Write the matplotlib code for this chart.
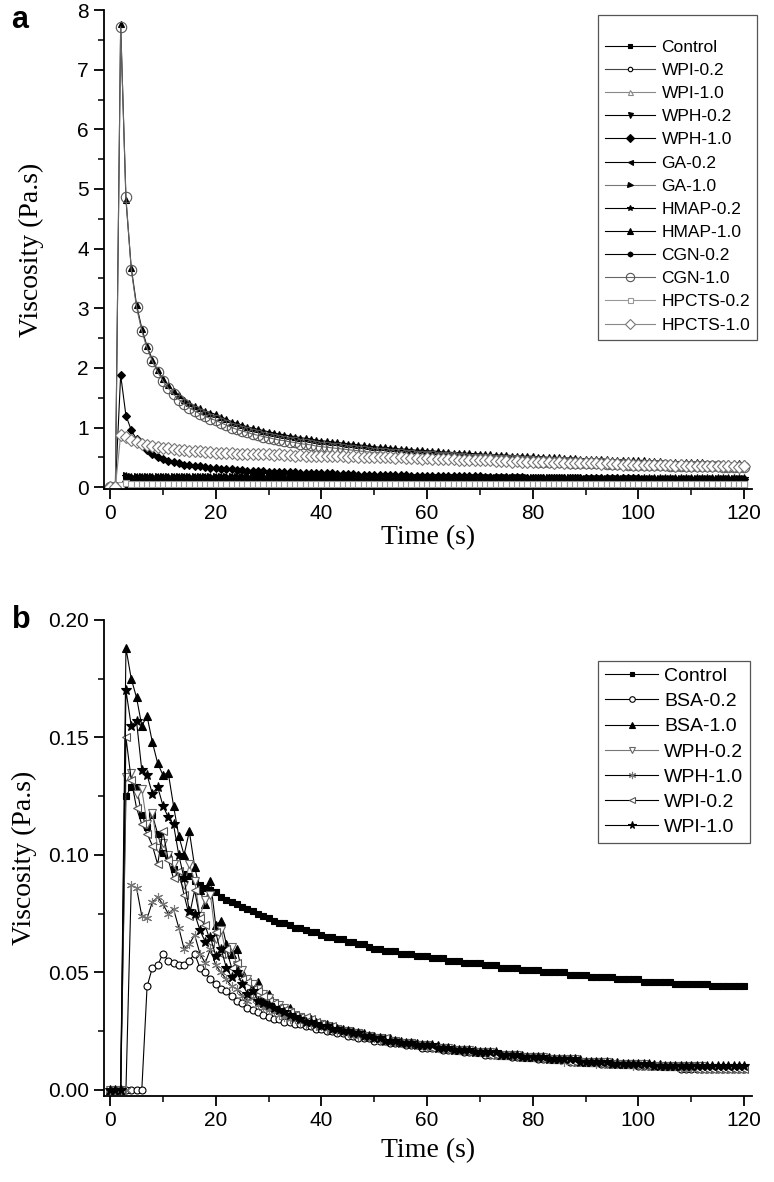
import numpy as np
import matplotlib
matplotlib.use("Agg")
import matplotlib.pyplot as plt
from matplotlib.ticker import MultipleLocator, FormatStrFormatter

plt.rcParams['font.family'] = ['Liberation Sans', 'DejaVu Sans']

time_s = np.arange(0, 121)

# ---------------- Panel a data (Pa.s), one value per second, t = 0..120 ----------------
a_control = [0.00, 0.00, 0.00, 0.02, 0.02, 0.02, 0.02, 0.01, 0.01, 0.01,
             0.01, 0.01, 0.01, 0.01, 0.01, 0.01, 0.01, 0.01, 0.01, 0.01,
             0.01, 0.01, 0.01, 0.01, 0.01, 0.01, 0.01, 0.01, 0.01, 0.01,
             0.01, 0.01, 0.01, 0.01, 0.01, 0.01, 0.01, 0.01, 0.01, 0.01,
             0.01, 0.01, 0.01, 0.01, 0.01, 0.01, 0.01, 0.01, 0.01, 0.01,
             0.01, 0.01, 0.01, 0.01, 0.01, 0.01, 0.01, 0.01, 0.01, 0.01,
             0.01, 0.01, 0.01, 0.01, 0.01, 0.01, 0.01, 0.01, 0.01, 0.01,
             0.01, 0.01, 0.01, 0.01, 0.01, 0.01, 0.01, 0.01, 0.01, 0.01,
             0.01, 0.01, 0.01, 0.01, 0.01, 0.01, 0.01, 0.01, 0.01, 0.01,
             0.01, 0.01, 0.01, 0.01, 0.01, 0.01, 0.01, 0.01, 0.01, 0.01,
             0.01, 0.01, 0.01, 0.01, 0.01, 0.01, 0.01, 0.01, 0.01, 0.01,
             0.01, 0.01, 0.01, 0.01, 0.01, 0.01, 0.01, 0.01, 0.01, 0.01,
             0.01]
a_wpi_02 = [0.00, 0.00, 0.00, 0.08, 0.07, 0.06, 0.06, 0.05, 0.05, 0.05,
            0.05, 0.04, 0.04, 0.04, 0.04, 0.04, 0.04, 0.04, 0.04, 0.04,
            0.03, 0.03, 0.03, 0.03, 0.03, 0.03, 0.03, 0.03, 0.03, 0.03,
            0.03, 0.03, 0.03, 0.03, 0.03, 0.03, 0.03, 0.03, 0.03, 0.03,
            0.02, 0.02, 0.02, 0.02, 0.02, 0.02, 0.02, 0.02, 0.02, 0.02,
            0.02, 0.02, 0.02, 0.02, 0.02, 0.02, 0.02, 0.02, 0.02, 0.02,
            0.02, 0.02, 0.02, 0.02, 0.02, 0.02, 0.02, 0.02, 0.02, 0.02,
            0.02, 0.02, 0.02, 0.02, 0.02, 0.02, 0.02, 0.02, 0.02, 0.02,
            0.01, 0.01, 0.01, 0.01, 0.01, 0.01, 0.01, 0.01, 0.01, 0.01,
            0.01, 0.01, 0.01, 0.01, 0.01, 0.01, 0.01, 0.01, 0.01, 0.01,
            0.01, 0.01, 0.01, 0.01, 0.01, 0.01, 0.01, 0.01, 0.01, 0.01,
            0.01, 0.01, 0.01, 0.01, 0.01, 0.01, 0.01, 0.01, 0.01, 0.01,
            0.01]
a_wpi_10 = [0.00, 0.00, 0.00, 0.10, 0.09, 0.08, 0.07, 0.07, 0.06, 0.06,
            0.05, 0.05, 0.05, 0.05, 0.05, 0.05, 0.05, 0.05, 0.05, 0.05,
            0.04, 0.04, 0.04, 0.04, 0.04, 0.04, 0.04, 0.04, 0.04, 0.04,
            0.04, 0.04, 0.04, 0.04, 0.04, 0.04, 0.04, 0.04, 0.04, 0.04,
            0.03, 0.03, 0.03, 0.03, 0.03, 0.03, 0.03, 0.03, 0.03, 0.03,
            0.03, 0.03, 0.03, 0.03, 0.03, 0.03, 0.03, 0.03, 0.03, 0.03,
            0.03, 0.03, 0.03, 0.03, 0.03, 0.03, 0.03, 0.03, 0.03, 0.03,
            0.03, 0.03, 0.03, 0.03, 0.03, 0.03, 0.03, 0.03, 0.03, 0.03,
            0.02, 0.02, 0.02, 0.02, 0.02, 0.02, 0.02, 0.02, 0.02, 0.02,
            0.02, 0.02, 0.02, 0.02, 0.02, 0.02, 0.02, 0.02, 0.02, 0.02,
            0.02, 0.02, 0.02, 0.02, 0.02, 0.02, 0.02, 0.02, 0.02, 0.02,
            0.02, 0.02, 0.02, 0.02, 0.02, 0.02, 0.02, 0.02, 0.02, 0.02,
            0.02]
a_wph_02 = [0.00, 0.00, 0.00, 0.12, 0.11, 0.10, 0.09, 0.09, 0.08, 0.08,
            0.07, 0.07, 0.07, 0.07, 0.07, 0.06, 0.06, 0.06, 0.06, 0.06,
            0.05, 0.05, 0.05, 0.05, 0.05, 0.05, 0.05, 0.05, 0.05, 0.05,
            0.05, 0.05, 0.05, 0.05, 0.05, 0.05, 0.05, 0.05, 0.05, 0.05,
            0.04, 0.04, 0.04, 0.04, 0.04, 0.04, 0.04, 0.04, 0.04, 0.04,
            0.04, 0.04, 0.04, 0.04, 0.04, 0.04, 0.04, 0.04, 0.04, 0.04,
            0.04, 0.04, 0.04, 0.04, 0.04, 0.04, 0.04, 0.04, 0.04, 0.04,
            0.04, 0.04, 0.04, 0.04, 0.04, 0.04, 0.04, 0.04, 0.04, 0.04,
            0.03, 0.03, 0.03, 0.03, 0.03, 0.03, 0.03, 0.03, 0.03, 0.03,
            0.03, 0.03, 0.03, 0.03, 0.03, 0.03, 0.03, 0.03, 0.03, 0.03,
            0.03, 0.03, 0.03, 0.03, 0.03, 0.03, 0.03, 0.03, 0.03, 0.03,
            0.03, 0.03, 0.03, 0.03, 0.03, 0.03, 0.03, 0.03, 0.03, 0.03,
            0.03]
a_wph_10 = [0.00, 0.00, 1.88, 1.20, 0.96, 0.80, 0.70, 0.62, 0.56, 0.51,
            0.47, 0.44, 0.42, 0.40, 0.38, 0.37, 0.36, 0.35, 0.34, 0.33,
            0.32, 0.31, 0.31, 0.30, 0.29, 0.29, 0.28, 0.28, 0.27, 0.27,
            0.26, 0.26, 0.26, 0.25, 0.25, 0.25, 0.24, 0.24, 0.24, 0.23,
            0.23, 0.23, 0.23, 0.22, 0.22, 0.22, 0.22, 0.21, 0.21, 0.21,
            0.21, 0.21, 0.20, 0.20, 0.20, 0.20, 0.20, 0.19, 0.19, 0.19,
            0.19, 0.19, 0.19, 0.19, 0.18, 0.18, 0.18, 0.18, 0.18, 0.18,
            0.18, 0.17, 0.17, 0.17, 0.17, 0.17, 0.17, 0.17, 0.17, 0.16,
            0.16, 0.16, 0.16, 0.16, 0.16, 0.16, 0.16, 0.16, 0.16, 0.15,
            0.15, 0.15, 0.15, 0.15, 0.15, 0.15, 0.15, 0.15, 0.15, 0.15,
            0.15, 0.14, 0.14, 0.14, 0.14, 0.14, 0.14, 0.14, 0.14, 0.14,
            0.14, 0.14, 0.14, 0.14, 0.14, 0.13, 0.13, 0.13, 0.13, 0.13,
            0.13]
a_ga_02 = [0.00, 0.00, 0.01, 0.14, 0.13, 0.13, 0.13, 0.13, 0.13, 0.13,
           0.12, 0.12, 0.12, 0.12, 0.12, 0.12, 0.12, 0.12, 0.12, 0.12,
           0.12, 0.12, 0.12, 0.12, 0.12, 0.12, 0.12, 0.12, 0.12, 0.12,
           0.12, 0.12, 0.12, 0.12, 0.12, 0.12, 0.12, 0.12, 0.12, 0.12,
           0.12, 0.12, 0.12, 0.12, 0.12, 0.12, 0.12, 0.12, 0.12, 0.12,
           0.12, 0.12, 0.12, 0.12, 0.12, 0.12, 0.12, 0.12, 0.12, 0.12,
           0.11, 0.11, 0.11, 0.11, 0.11, 0.11, 0.11, 0.11, 0.11, 0.11,
           0.11, 0.11, 0.11, 0.11, 0.11, 0.11, 0.11, 0.11, 0.11, 0.11,
           0.11, 0.11, 0.11, 0.11, 0.11, 0.11, 0.11, 0.11, 0.11, 0.11,
           0.11, 0.11, 0.11, 0.11, 0.11, 0.11, 0.11, 0.11, 0.11, 0.11,
           0.11, 0.11, 0.11, 0.11, 0.11, 0.11, 0.11, 0.11, 0.11, 0.11,
           0.11, 0.11, 0.11, 0.11, 0.11, 0.11, 0.11, 0.11, 0.11, 0.11,
           0.11]
a_ga_10 = [0.00, 0.00, 0.02, 0.20, 0.19, 0.18, 0.18, 0.18, 0.18, 0.18,
           0.18, 0.18, 0.18, 0.18, 0.18, 0.18, 0.18, 0.18, 0.18, 0.18,
           0.18, 0.18, 0.18, 0.18, 0.18, 0.18, 0.18, 0.18, 0.18, 0.18,
           0.18, 0.18, 0.18, 0.18, 0.18, 0.18, 0.18, 0.18, 0.18, 0.18,
           0.17, 0.17, 0.17, 0.17, 0.17, 0.17, 0.17, 0.17, 0.17, 0.17,
           0.17, 0.17, 0.17, 0.17, 0.17, 0.17, 0.17, 0.17, 0.17, 0.17,
           0.17, 0.17, 0.17, 0.17, 0.17, 0.17, 0.17, 0.17, 0.17, 0.17,
           0.17, 0.17, 0.17, 0.17, 0.17, 0.17, 0.17, 0.17, 0.17, 0.17,
           0.17, 0.17, 0.17, 0.17, 0.17, 0.17, 0.17, 0.17, 0.17, 0.17,
           0.16, 0.16, 0.16, 0.16, 0.16, 0.16, 0.16, 0.16, 0.16, 0.16,
           0.16, 0.16, 0.16, 0.16, 0.16, 0.16, 0.16, 0.16, 0.16, 0.16,
           0.16, 0.16, 0.16, 0.16, 0.16, 0.16, 0.16, 0.16, 0.16, 0.16,
           0.16]
a_hmap_02 = [0.00, 0.00, 0.02, 0.18, 0.17, 0.17, 0.17, 0.17, 0.17, 0.17,
             0.17, 0.17, 0.17, 0.17, 0.17, 0.17, 0.17, 0.17, 0.17, 0.17,
             0.17, 0.17, 0.17, 0.17, 0.17, 0.17, 0.17, 0.17, 0.17, 0.17,
             0.16, 0.16, 0.16, 0.16, 0.16, 0.16, 0.16, 0.16, 0.16, 0.16,
             0.16, 0.16, 0.16, 0.16, 0.16, 0.16, 0.16, 0.16, 0.16, 0.16,
             0.16, 0.16, 0.16, 0.16, 0.16, 0.16, 0.16, 0.16, 0.16, 0.16,
             0.16, 0.16, 0.16, 0.16, 0.16, 0.16, 0.16, 0.16, 0.16, 0.16,
             0.16, 0.16, 0.16, 0.16, 0.16, 0.16, 0.16, 0.16, 0.16, 0.16,
             0.15, 0.15, 0.15, 0.15, 0.15, 0.15, 0.15, 0.15, 0.15, 0.15,
             0.15, 0.15, 0.15, 0.15, 0.15, 0.15, 0.15, 0.15, 0.15, 0.15,
             0.15, 0.15, 0.15, 0.15, 0.15, 0.15, 0.15, 0.15, 0.15, 0.15,
             0.15, 0.15, 0.15, 0.15, 0.15, 0.15, 0.15, 0.15, 0.15, 0.15,
             0.15]
a_hmap_10 = [0.00, 0.00, 7.76, 4.82, 3.68, 3.06, 2.66, 2.36, 2.14, 1.96,
             1.82, 1.71, 1.62, 1.54, 1.47, 1.41, 1.36, 1.32, 1.28, 1.25,
             1.22, 1.18, 1.14, 1.10, 1.07, 1.04, 1.01, 0.99, 0.97, 0.95,
             0.93, 0.91, 0.89, 0.88, 0.86, 0.85, 0.83, 0.82, 0.81, 0.79,
             0.78, 0.77, 0.76, 0.75, 0.74, 0.73, 0.72, 0.71, 0.70, 0.69,
             0.68, 0.67, 0.67, 0.66, 0.65, 0.64, 0.64, 0.63, 0.62, 0.62,
             0.61, 0.61, 0.60, 0.59, 0.59, 0.58, 0.58, 0.57, 0.57, 0.56,
             0.56, 0.55, 0.55, 0.54, 0.54, 0.54, 0.53, 0.53, 0.52, 0.52,
             0.52, 0.51, 0.51, 0.50, 0.50, 0.50, 0.49, 0.49, 0.49, 0.48,
             0.48, 0.48, 0.47, 0.47, 0.47, 0.46, 0.46, 0.46, 0.45, 0.45,
             0.45, 0.45, 0.44, 0.44, 0.44, 0.43, 0.43, 0.43, 0.43, 0.42,
             0.42, 0.42, 0.42, 0.41, 0.41, 0.41, 0.41, 0.40, 0.40, 0.40,
             0.40]
a_cgn_02 = [0.00, 0.00, 0.01, 0.17, 0.16, 0.16, 0.16, 0.16, 0.16, 0.16,
            0.16, 0.16, 0.16, 0.16, 0.16, 0.16, 0.16, 0.16, 0.16, 0.16,
            0.16, 0.16, 0.16, 0.16, 0.16, 0.16, 0.16, 0.16, 0.16, 0.16,
            0.15, 0.15, 0.15, 0.15, 0.15, 0.15, 0.15, 0.15, 0.15, 0.15,
            0.15, 0.15, 0.15, 0.15, 0.15, 0.15, 0.15, 0.15, 0.15, 0.15,
            0.15, 0.15, 0.15, 0.15, 0.15, 0.15, 0.15, 0.15, 0.15, 0.15,
            0.15, 0.15, 0.15, 0.15, 0.15, 0.15, 0.15, 0.15, 0.15, 0.15,
            0.15, 0.15, 0.15, 0.15, 0.15, 0.15, 0.15, 0.15, 0.15, 0.15,
            0.14, 0.14, 0.14, 0.14, 0.14, 0.14, 0.14, 0.14, 0.14, 0.14,
            0.14, 0.14, 0.14, 0.14, 0.14, 0.14, 0.14, 0.14, 0.14, 0.14,
            0.14, 0.14, 0.14, 0.14, 0.14, 0.14, 0.14, 0.14, 0.14, 0.14,
            0.14, 0.14, 0.14, 0.14, 0.14, 0.14, 0.14, 0.14, 0.14, 0.14,
            0.14]
a_cgn_10 = [0.00, 0.00, 7.72, 4.86, 3.65, 3.02, 2.62, 2.33, 2.11, 1.93,
            1.78, 1.66, 1.56, 1.47, 1.40, 1.33, 1.28, 1.23, 1.19, 1.15,
            1.12, 1.08, 1.04, 1.00, 0.97, 0.94, 0.92, 0.89, 0.87, 0.85,
            0.83, 0.81, 0.79, 0.78, 0.76, 0.75, 0.73, 0.72, 0.71, 0.69,
            0.68, 0.67, 0.66, 0.65, 0.64, 0.63, 0.62, 0.61, 0.60, 0.59,
            0.58, 0.58, 0.57, 0.56, 0.56, 0.55, 0.54, 0.54, 0.53, 0.53,
            0.52, 0.52, 0.51, 0.51, 0.50, 0.50, 0.49, 0.49, 0.48, 0.48,
            0.47, 0.47, 0.47, 0.46, 0.46, 0.45, 0.45, 0.45, 0.44, 0.44,
            0.44, 0.43, 0.43, 0.43, 0.42, 0.42, 0.42, 0.41, 0.41, 0.41,
            0.41, 0.40, 0.40, 0.40, 0.39, 0.39, 0.39, 0.39, 0.38, 0.38,
            0.38, 0.38, 0.37, 0.37, 0.37, 0.37, 0.36, 0.36, 0.36, 0.36,
            0.36, 0.35, 0.35, 0.35, 0.35, 0.35, 0.34, 0.34, 0.34, 0.34,
            0.34]
a_hpcts_02 = [0.00, 0.00, 0.03, 0.07, 0.06, 0.06, 0.06, 0.06, 0.06, 0.06,
              0.06, 0.06, 0.06, 0.06, 0.06, 0.06, 0.06, 0.06, 0.06, 0.06,
              0.05, 0.05, 0.05, 0.05, 0.05, 0.05, 0.05, 0.05, 0.05, 0.05,
              0.05, 0.05, 0.05, 0.05, 0.05, 0.05, 0.05, 0.05, 0.05, 0.05,
              0.05, 0.05, 0.05, 0.05, 0.05, 0.05, 0.05, 0.05, 0.05, 0.05,
              0.05, 0.05, 0.05, 0.05, 0.05, 0.05, 0.05, 0.05, 0.05, 0.05,
              0.05, 0.05, 0.05, 0.05, 0.05, 0.05, 0.05, 0.05, 0.05, 0.05,
              0.05, 0.05, 0.05, 0.05, 0.05, 0.05, 0.05, 0.05, 0.05, 0.05,
              0.05, 0.05, 0.05, 0.05, 0.05, 0.05, 0.05, 0.05, 0.05, 0.05,
              0.05, 0.05, 0.05, 0.05, 0.05, 0.05, 0.05, 0.05, 0.05, 0.05,
              0.05, 0.05, 0.05, 0.05, 0.05, 0.05, 0.05, 0.05, 0.05, 0.05,
              0.05, 0.05, 0.05, 0.05, 0.05, 0.05, 0.05, 0.05, 0.05, 0.05,
              0.05]
a_hpcts_10 = [0.00, 0.00, 0.88, 0.84, 0.79, 0.76, 0.73, 0.71, 0.69, 0.68,
              0.66, 0.65, 0.64, 0.63, 0.62, 0.61, 0.61, 0.60, 0.59, 0.59,
              0.58, 0.58, 0.57, 0.57, 0.56, 0.56, 0.56, 0.55, 0.56, 0.55,
              0.55, 0.54, 0.55, 0.54, 0.54, 0.53, 0.54, 0.53, 0.53, 0.53,
              0.53, 0.52, 0.53, 0.52, 0.52, 0.51, 0.52, 0.51, 0.51, 0.51,
              0.51, 0.50, 0.50, 0.50, 0.49, 0.50, 0.49, 0.49, 0.49, 0.48,
              0.49, 0.48, 0.48, 0.47, 0.47, 0.47, 0.46, 0.46, 0.46, 0.45,
              0.46, 0.45, 0.45, 0.44, 0.44, 0.44, 0.43, 0.44, 0.43, 0.43,
              0.43, 0.42, 0.42, 0.42, 0.41, 0.42, 0.41, 0.41, 0.40, 0.41,
              0.40, 0.40, 0.40, 0.39, 0.40, 0.39, 0.39, 0.38, 0.39, 0.38,
              0.38, 0.38, 0.37, 0.38, 0.37, 0.37, 0.37, 0.36, 0.37, 0.36,
              0.36, 0.36, 0.36, 0.35, 0.36, 0.35, 0.35, 0.35, 0.35, 0.34,
              0.35]

# ---------------- Panel b data (Pa.s), t = 0..120 ----------------
b_control = [0.000, 0.000, 0.000, 0.125, 0.129, 0.129, 0.117, 0.112, 0.117, 0.109,
             0.101, 0.100, 0.094, 0.091, 0.092, 0.091, 0.089, 0.087, 0.086, 0.085,
             0.084, 0.082, 0.081, 0.080, 0.079, 0.078, 0.077, 0.076, 0.075, 0.074,
             0.073, 0.072, 0.071, 0.071, 0.070, 0.069, 0.069, 0.068, 0.067, 0.067,
             0.066, 0.065, 0.065, 0.064, 0.064, 0.063, 0.063, 0.062, 0.062, 0.061,
             0.060, 0.060, 0.059, 0.059, 0.059, 0.058, 0.058, 0.058, 0.057, 0.057,
             0.057, 0.056, 0.056, 0.056, 0.055, 0.055, 0.055, 0.054, 0.054, 0.054,
             0.054, 0.053, 0.053, 0.053, 0.052, 0.052, 0.052, 0.052, 0.051, 0.051,
             0.051, 0.051, 0.050, 0.050, 0.050, 0.050, 0.050, 0.049, 0.049, 0.049,
             0.049, 0.048, 0.048, 0.048, 0.048, 0.048, 0.047, 0.047, 0.047, 0.047,
             0.047, 0.046, 0.046, 0.046, 0.046, 0.046, 0.046, 0.045, 0.045, 0.045,
             0.045, 0.045, 0.045, 0.045, 0.044, 0.044, 0.044, 0.044, 0.044, 0.044,
             0.044]
b_bsa_02 = [0.000, 0.000, 0.000, 0.000, 0.000, 0.000, 0.000, 0.044, 0.052, 0.053,
            0.058, 0.055, 0.054, 0.053, 0.053, 0.055, 0.058, 0.052, 0.050, 0.047,
            0.045, 0.043, 0.042, 0.040, 0.038, 0.037, 0.035, 0.034, 0.033, 0.032,
            0.031, 0.030, 0.030, 0.029, 0.029, 0.028, 0.028, 0.027, 0.027, 0.026,
            0.026, 0.025, 0.025, 0.024, 0.024, 0.023, 0.023, 0.022, 0.022, 0.022,
            0.021, 0.021, 0.021, 0.020, 0.020, 0.020, 0.019, 0.019, 0.019, 0.018,
            0.018, 0.018, 0.018, 0.017, 0.017, 0.017, 0.017, 0.016, 0.016, 0.016,
            0.016, 0.015, 0.015, 0.015, 0.015, 0.015, 0.014, 0.014, 0.014, 0.014,
            0.014, 0.013, 0.013, 0.013, 0.013, 0.013, 0.013, 0.012, 0.012, 0.012,
            0.012, 0.012, 0.012, 0.011, 0.011, 0.011, 0.011, 0.011, 0.011, 0.011,
            0.010, 0.010, 0.010, 0.010, 0.010, 0.010, 0.010, 0.010, 0.009, 0.009,
            0.009, 0.009, 0.009, 0.009, 0.009, 0.009, 0.009, 0.009, 0.009, 0.009,
            0.009]
b_bsa_10 = [0.000, 0.000, 0.000, 0.188, 0.175, 0.167, 0.155, 0.159, 0.148, 0.139,
            0.134, 0.135, 0.121, 0.108, 0.100, 0.110, 0.095, 0.085, 0.079, 0.089,
            0.070, 0.072, 0.062, 0.058, 0.060, 0.050, 0.047, 0.044, 0.046, 0.040,
            0.041, 0.037, 0.036, 0.034, 0.035, 0.032, 0.031, 0.030, 0.030, 0.029,
            0.028, 0.028, 0.027, 0.026, 0.026, 0.025, 0.025, 0.024, 0.024, 0.023,
            0.023, 0.022, 0.022, 0.022, 0.021, 0.021, 0.020, 0.020, 0.020, 0.019,
            0.019, 0.019, 0.019, 0.018, 0.018, 0.018, 0.017, 0.017, 0.017, 0.017,
            0.016, 0.016, 0.016, 0.016, 0.015, 0.015, 0.015, 0.015, 0.015, 0.014,
            0.014, 0.014, 0.014, 0.014, 0.013, 0.013, 0.013, 0.013, 0.013, 0.013,
            0.012, 0.012, 0.012, 0.012, 0.012, 0.012, 0.012, 0.011, 0.011, 0.011,
            0.011, 0.011, 0.011, 0.011, 0.011, 0.010, 0.010, 0.010, 0.010, 0.010,
            0.010, 0.010, 0.010, 0.010, 0.010, 0.010, 0.010, 0.010, 0.010, 0.010,
            0.010]
b_wph_02 = [0.000, 0.000, 0.000, 0.133, 0.135, 0.126, 0.128, 0.113, 0.118, 0.103,
            0.105, 0.100, 0.096, 0.091, 0.087, 0.096, 0.089, 0.074, 0.081, 0.083,
            0.064, 0.068, 0.058, 0.061, 0.053, 0.051, 0.047, 0.045, 0.043, 0.041,
            0.039, 0.037, 0.036, 0.035, 0.033, 0.032, 0.031, 0.030, 0.029, 0.028,
            0.028, 0.027, 0.026, 0.026, 0.025, 0.025, 0.024, 0.024, 0.023, 0.023,
            0.022, 0.022, 0.021, 0.021, 0.021, 0.020, 0.020, 0.020, 0.019, 0.019,
            0.019, 0.018, 0.018, 0.018, 0.018, 0.017, 0.017, 0.017, 0.017, 0.016,
            0.016, 0.016, 0.016, 0.015, 0.015, 0.015, 0.015, 0.015, 0.014, 0.014,
            0.014, 0.014, 0.014, 0.013, 0.013, 0.013, 0.013, 0.013, 0.013, 0.012,
            0.012, 0.012, 0.012, 0.012, 0.012, 0.011, 0.011, 0.011, 0.011, 0.011,
            0.011, 0.011, 0.010, 0.010, 0.010, 0.010, 0.010, 0.010, 0.010, 0.010,
            0.010, 0.010, 0.010, 0.009, 0.009, 0.009, 0.009, 0.009, 0.009, 0.009,
            0.009]
b_wph_10 = [0.000, 0.000, 0.000, 0.000, 0.087, 0.086, 0.074, 0.073, 0.080, 0.082,
            0.079, 0.075, 0.077, 0.069, 0.060, 0.062, 0.066, 0.058, 0.054, 0.060,
            0.053, 0.050, 0.047, 0.044, 0.043, 0.040, 0.038, 0.039, 0.036, 0.035,
            0.034, 0.033, 0.032, 0.031, 0.030, 0.030, 0.029, 0.028, 0.028, 0.027,
            0.027, 0.026, 0.025, 0.025, 0.024, 0.024, 0.023, 0.023, 0.022, 0.022,
            0.022, 0.021, 0.021, 0.020, 0.020, 0.020, 0.019, 0.019, 0.019, 0.019,
            0.018, 0.018, 0.018, 0.017, 0.017, 0.017, 0.017, 0.016, 0.016, 0.016,
            0.016, 0.016, 0.015, 0.015, 0.015, 0.015, 0.014, 0.014, 0.014, 0.014,
            0.014, 0.013, 0.013, 0.013, 0.013, 0.013, 0.012, 0.012, 0.012, 0.012,
            0.012, 0.012, 0.011, 0.011, 0.011, 0.011, 0.011, 0.011, 0.011, 0.010,
            0.010, 0.010, 0.010, 0.010, 0.010, 0.010, 0.010, 0.010, 0.009, 0.009,
            0.009, 0.009, 0.009, 0.009, 0.009, 0.009, 0.009, 0.009, 0.009, 0.009,
            0.009]
b_wpi_02 = [0.000, 0.000, 0.000, 0.150, 0.132, 0.120, 0.113, 0.109, 0.104, 0.096,
            0.110, 0.098, 0.090, 0.093, 0.083, 0.074, 0.085, 0.073, 0.070, 0.063,
            0.067, 0.058, 0.060, 0.052, 0.054, 0.047, 0.046, 0.043, 0.042, 0.040,
            0.038, 0.037, 0.035, 0.034, 0.033, 0.032, 0.031, 0.031, 0.030, 0.029,
            0.028, 0.027, 0.027, 0.026, 0.025, 0.025, 0.024, 0.024, 0.023, 0.023,
            0.022, 0.022, 0.022, 0.021, 0.021, 0.020, 0.020, 0.020, 0.019, 0.019,
            0.019, 0.018, 0.018, 0.018, 0.017, 0.017, 0.017, 0.017, 0.016, 0.016,
            0.016, 0.016, 0.015, 0.015, 0.015, 0.015, 0.015, 0.014, 0.014, 0.014,
            0.014, 0.014, 0.013, 0.013, 0.013, 0.013, 0.013, 0.012, 0.012, 0.012,
            0.012, 0.012, 0.012, 0.011, 0.011, 0.011, 0.011, 0.011, 0.011, 0.011,
            0.010, 0.010, 0.010, 0.010, 0.010, 0.010, 0.010, 0.010, 0.010, 0.010,
            0.010, 0.009, 0.009, 0.009, 0.009, 0.009, 0.009, 0.009, 0.009, 0.009,
            0.009]
b_wpi_10 = [0.000, 0.000, 0.000, 0.170, 0.155, 0.157, 0.136, 0.134, 0.126, 0.129,
            0.121, 0.116, 0.113, 0.100, 0.090, 0.076, 0.075, 0.068, 0.063, 0.065,
            0.057, 0.060, 0.052, 0.048, 0.050, 0.045, 0.041, 0.042, 0.038, 0.037,
            0.036, 0.035, 0.034, 0.033, 0.032, 0.031, 0.030, 0.029, 0.029, 0.028,
            0.027, 0.027, 0.026, 0.026, 0.025, 0.025, 0.024, 0.024, 0.023, 0.023,
            0.022, 0.022, 0.021, 0.021, 0.021, 0.020, 0.020, 0.020, 0.019, 0.019,
            0.019, 0.019, 0.018, 0.018, 0.018, 0.017, 0.017, 0.017, 0.017, 0.016,
            0.016, 0.016, 0.016, 0.016, 0.015, 0.015, 0.015, 0.015, 0.014, 0.014,
            0.014, 0.014, 0.014, 0.013, 0.013, 0.013, 0.013, 0.013, 0.013, 0.012,
            0.012, 0.012, 0.012, 0.012, 0.012, 0.011, 0.011, 0.011, 0.011, 0.011,
            0.011, 0.011, 0.011, 0.010, 0.010, 0.010, 0.010, 0.010, 0.010, 0.010,
            0.010, 0.010, 0.010, 0.010, 0.010, 0.010, 0.010, 0.010, 0.010, 0.010,
            0.010]

a_labels = ['Control', 'WPI-0.2', 'WPI-1.0', 'WPH-0.2', 'WPH-1.0', 'GA-0.2', 'GA-1.0',
            'HMAP-0.2', 'HMAP-1.0', 'CGN-0.2', 'CGN-1.0', 'HPCTS-0.2', 'HPCTS-1.0']
a_series = [a_control, a_wpi_02, a_wpi_10, a_wph_02, a_wph_10, a_ga_02, a_ga_10,
            a_hmap_02, a_hmap_10, a_cgn_02, a_cgn_10, a_hpcts_02, a_hpcts_10]
b_labels = ['Control', 'BSA-0.2', 'BSA-1.0', 'WPH-0.2', 'WPH-1.0', 'WPI-0.2', 'WPI-1.0']
b_series = [b_control, b_bsa_02, b_bsa_10, b_wph_02, b_wph_10, b_wpi_02, b_wpi_10]

# styles: (marker, line colour, face colour, edge colour, marker size)
a_styles = [
    ('s', 'black', 'black', 'black', 4.0),
    ('o', '#444444', 'white', 'black', 4.0),
    ('^', '#888888', 'white', '#888888', 4.5),
    ('v', 'black', 'black', 'black', 4.5),
    ('D', 'black', 'black', 'black', 4.5),
    ('<', 'black', 'black', 'black', 4.5),
    ('>', '#777777', 'black', 'black', 4.5),
    ('*', 'black', 'black', 'black', 5.5),
    ('^', 'black', 'black', 'black', 5.0),
    ('h', 'black', 'black', 'black', 4.5),
    ('o', '#666666', 'none', '#555555', 7.5),
    ('s', '#999999', 'white', '#999999', 4.5),
    ('D', '#888888', 'white', '#777777', 5.8),
]
b_styles = [
    ('s', 'black', 'black', 'black', 4.0),
    ('o', 'black', 'white', 'black', 5.0),
    ('^', 'black', 'black', 'black', 6.0),
    ('v', '#777777', 'white', '#666666', 6.0),
    ((6, 2, 0), 'black', '#777777', '#777777', 6.5),
    ('<', 'black', 'white', '#555555', 6.0),
    ('*', 'black', 'black', 'black', 7.0),
]

fig = plt.figure(figsize=(7.74, 11.82), dpi=100)
ax_a = fig.add_axes([0.1344, 0.5863, 0.8372, 0.4052])
ax_b = fig.add_axes([0.1344, 0.0728, 0.8372, 0.4027])


def style_axes(ax, labelpad):
    for s in ('top', 'right'):
        ax.spines[s].set_visible(False)
    for s in ('left', 'bottom'):
        ax.spines[s].set_linewidth(1.3)
    ax.tick_params(which='major', direction='out', length=7, width=1.3,
                   labelsize=15, pad=4)
    ax.tick_params(which='minor', direction='out', length=4, width=1.1)
    ax.xaxis.set_major_locator(MultipleLocator(20))
    ax.xaxis.set_minor_locator(MultipleLocator(10))
    ax.set_xlim(-1.15, 121.5)
    ax.set_xlabel('Time (s)', family=['Liberation Serif', 'DejaVu Serif'],
                  fontsize=20, labelpad=labelpad)
    ax.set_ylabel('Viscosity (Pa.s)', family=['Liberation Serif', 'DejaVu Serif'],
                  fontsize=20)


for ax, series, labels, styles, lp in ((ax_a, a_series, a_labels, a_styles, 1),
                                       (ax_b, b_series, b_labels, b_styles, 6)):
    for y, lab, (mk, lc, fc, ec, ms) in zip(series, labels, styles):
        ax.plot(time_s, y, color=lc, lw=0.8, marker=mk, markersize=ms,
                markerfacecolor=fc, markeredgecolor=ec, markeredgewidth=0.8,
                label=lab)
    style_axes(ax, lp)

ax_a.set_ylim(-0.03, 8)
ax_a.yaxis.set_major_locator(MultipleLocator(1))
ax_a.yaxis.set_minor_locator(MultipleLocator(0.5))
ax_a.yaxis.set_label_coords(-0.093, 0.5)

ax_b.set_ylim(-0.0026, 0.20)
ax_b.yaxis.set_major_locator(MultipleLocator(0.05))
ax_b.yaxis.set_minor_locator(MultipleLocator(0.025))
ax_b.yaxis.set_major_formatter(FormatStrFormatter('%.2f'))
ax_b.yaxis.set_label_coords(-0.104, 0.5)

leg_a = ax_a.legend(loc='upper right', bbox_to_anchor=(1.008, 0.99), borderaxespad=0,
                    fontsize=12.5, title=' ', title_fontsize=7, handlelength=2.9,
                    handletextpad=0.35, labelspacing=0.46, borderpad=0.4,
                    fancybox=False, framealpha=1, edgecolor='#555555', markerscale=0.8)
leg_a.get_frame().set_linewidth(0.9)
leg_b = ax_b.legend(loc='lower right', bbox_to_anchor=(0.997, 0.5315), borderaxespad=0,
                    fontsize=14, handlelength=2.75,
                    handletextpad=0.3, labelspacing=0.39, borderpad=0.35,
                    fancybox=False, framealpha=1, edgecolor='#555555', markerscale=0.8)
leg_b.get_frame().set_linewidth(0.9)

fig.text(0.015, 0.996, 'a', fontsize=22, fontweight='bold', va='top', ha='left')
fig.text(0.015, 0.488, 'b', fontsize=22, fontweight='bold', va='top', ha='left')

fig.savefig('out.png', dpi=100)
